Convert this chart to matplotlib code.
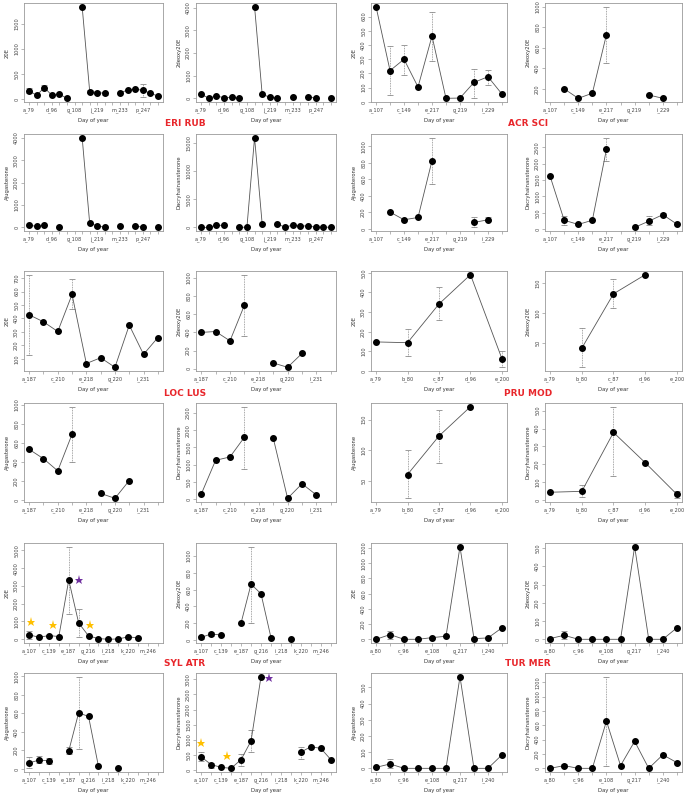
import numpy as np
import matplotlib
matplotlib.use("Agg")
import matplotlib.pyplot as plt

nan = np.nan
compounds = ["20E", "2deoxy20E", "Ajugasterone", "Dacryhainansterone"]

# ---- ERI RUB ----
eri_days = ["a_79", "", "", "d_96", "", "", "g_108", "", "", "j_219", "", "",
            "m_233", "", "", "p_247", "", ""]
eri_20e = [167, 80, 233, 80, 100, 20, nan, 1833, 153, 133, 120, nan, 133, 180, 200, 180, 120, 67]
eri_20e_err = {0: (120, 220), 2: (187, 280), 8: (120, 187), 9: (100, 160), 10: (95, 150), 15: (53, 300)}
eri_2deoxy = [175, 10, 100, 30, 45, 0, nan, 4040, 175, 50, 20, nan, 40, nan, 80, 0, nan, 30]
eri_2deoxy_err = {}
eri_ajug = [100, 45, 90, nan, 30, nan, nan, 4015, 175, 75, 0, nan, 45, nan, 75, 0, nan, 30]
eri_ajug_err = {}
eri_dacry = [0, 0, 400, 350, nan, 0, 50, 15900, 580, nan, 580, 50, 400, 230, 290, 20, 80, 0]
eri_dacry_err = {}
eri_yticks = [[0, 500, 1000, 1500], [0, 1000, 2000, 3000, 4000],
              [0, 1000, 2000, 3000, 4000], [0, 5000, 10000, 15000]]

# ---- ACR SCI ----
acr_days = ["a_107", "", "c_149", "", "e_217", "", "g_219", "", "i_229", ""]
acr_20e = [670, 220, 300, 105, 463, 25, 27, 137, 177, 55]
acr_20e_err = {1: (47, 393), 2: (190, 400), 4: (290, 635), 7: (28, 228), 8: (122, 224)}
acr_2deoxy = [nan, 200, 107, 157, 730, nan, nan, 140, 107, nan]
acr_2deoxy_err = {4: (457, 1003)}
acr_ajug = [nan, 205, 112, 140, 825, nan, nan, 80, 112, nan]
acr_ajug_err = {4: (540, 1104), 7: (20, 140), 8: (92, 140)}
acr_dacry = [1620, 270, 140, 270, 2440, nan, 50, 240, 440, 150]
acr_dacry_err = {1: (120, 400), 4: (2090, 2800), 7: (120, 400), 8: (400, 480)}
acr_yticks = [list(range(0, 700, 100)), list(range(200, 1200, 200)),
              list(range(0, 1200, 200)), list(range(0, 3000, 500))]

# ---- LOC LUS ----
loc_days = ["a_187", "", "c_210", "", "e_218", "", "g_220", "", "i_231", ""]
loc_20e = [427, 375, 303, 578, 65, 108, 37, 350, 133, 258]
loc_20e_err = {0: (130, 725), 3: (470, 695)}
loc_2deoxy = [400, 410, 307, 700, nan, 63, 15, 168, nan, nan]
loc_2deoxy_err = {3: (363, 1037)}
loc_ajug = [533, 435, 307, 692, nan, 70, 18, 205, nan, nan]
loc_ajug_err = {3: (400, 982)}
loc_dacry = [147, 1127, 1225, 1794, nan, 1775, 30, 450, 127, nan]
loc_dacry_err = {3: (880, 2676)}
loc_yticks = [list(range(100, 800, 100)), list(range(0, 1200, 200)),
              list(range(0, 1200, 200)), list(range(0, 3000, 500))]

# ---- PRU MOD ----
pru_days = ["a_79", "b_80", "c_87", "d_96", "e_200"]
pru_20e = [148, 144, 341, 490, 62]
pru_20e_err = {1: (74, 214), 2: (257, 425), 4: (19, 103)}
pru_2deoxy = [nan, 41, 132, 164, nan]
pru_2deoxy_err = {1: (9, 74), 2: (108, 157)}
pru_ajug = [nan, 60, 123, 171, nan]
pru_ajug_err = {1: (21, 100), 2: (79, 165)}
pru_dacry = [44, 49, 378, 209, 32]
pru_dacry_err = {1: (19, 82), 2: (133, 522), 4: (10, 50)}
pru_yticks = [list(range(0, 600, 100)), [50, 100, 150], [50, 100, 150], list(range(0, 600, 100))]

# ---- SYL ATR ----
syl_days = ["a_107", "", "c_139", "", "e_187", "", "g_216", "", "i_218", "",
            "k_220", "", "m_246", ""]
syl_20e = [250, 115, 210, 155, 3330, 920, 190, 40, 0, 20, 135, 80, nan, nan]
syl_20e_err = {0: (0, 440), 4: (1400, 5200), 5: (150, 1700)}
syl_2deoxy = [33, 73, 61, nan, 204, 665, 551, 29, nan, 12, nan, nan, nan, nan]
syl_2deoxy_err = {0: (10, 55), 1: (50, 100), 5: (205, 1110)}
syl_ajug = [65, 97, 87, nan, 195, 607, 567, 29, nan, 7, nan, nan, nan, nan]
syl_ajug_err = {0: (10, 125), 1: (60, 140), 2: (55, 115), 4: (160, 240), 5: (218, 997)}
syl_dacry = [444, 190, 100, 67, 355, 965, 3080, nan, nan, nan, 600, 778, 722, 355]
syl_dacry_err = {0: (320, 590), 1: (90, 250), 4: (160, 530), 5: (590, 1320), 10: (380, 780)}
syl_yticks = [list(range(0, 6000, 1000)), list(range(0, 1200, 200)),
              list(range(0, 1200, 200)), list(range(0, 3500, 500))]
# stars (x position in category units, y value)
syl_20e_yellow = ([0.2, 2.4, 6.1], [980, 830, 830])
syl_20e_purple = ([5.0], [3330])
syl_dacry_yellow = ([0.0, 2.6], [910, 467])
syl_dacry_purple = ([6.85], [3020])

# ---- TUR MER ----
tur_days = ["a_80", "", "c_96", "", "e_108", "", "g_217", "", "i_240", ""]
tur_20e = [0, 62, 0, 0, 22, 40, 1218, 9, 18, 151]
tur_20e_err = {1: (0, 110)}
tur_2deoxy = [4, 22, 0, 0, 0, 0, 507, 0, 0, 63]
tur_2deoxy_err = {1: (0, 44)}
tur_ajug = [6, 27, 0, 0, 0, 0, 566, 0, 0, 83]
tur_ajug_err = {1: (0, 56)}
tur_dacry = [0, 38, 0, 0, 660, 38, 377, 0, 189, 80]
tur_dacry_err = {1: (20, 55), 4: (30, 1280)}
tur_yticks = [list(range(0, 1400, 200)), list(range(0, 600, 100)),
              list(range(0, 600, 100)), list(range(0, 1400, 200))]

species = [
    ("ERI RUB", eri_days, [eri_20e, eri_2deoxy, eri_ajug, eri_dacry],
     [eri_20e_err, eri_2deoxy_err, eri_ajug_err, eri_dacry_err], eri_yticks),
    ("ACR SCI", acr_days, [acr_20e, acr_2deoxy, acr_ajug, acr_dacry],
     [acr_20e_err, acr_2deoxy_err, acr_ajug_err, acr_dacry_err], acr_yticks),
    ("LOC LUS", loc_days, [loc_20e, loc_2deoxy, loc_ajug, loc_dacry],
     [loc_20e_err, loc_2deoxy_err, loc_ajug_err, loc_dacry_err], loc_yticks),
    ("PRU MOD", pru_days, [pru_20e, pru_2deoxy, pru_ajug, pru_dacry],
     [pru_20e_err, pru_2deoxy_err, pru_ajug_err, pru_dacry_err], pru_yticks),
    ("SYL ATR", syl_days, [syl_20e, syl_2deoxy, syl_ajug, syl_dacry],
     [syl_20e_err, syl_2deoxy_err, syl_ajug_err, syl_dacry_err], syl_yticks),
    ("TUR MER", tur_days, [tur_20e, tur_2deoxy, tur_ajug, tur_dacry],
     [tur_20e_err, tur_2deoxy_err, tur_ajug_err, tur_dacry_err], tur_yticks),
]

W, H = 685, 795
# panel frames in pixels
col_left = [24, 196, 371, 545]
col_right = [163, 336, 507, 682]
row_top = [3, 134, 271, 403, 543, 673]
row_bottom = [102, 231, 371, 502, 643, 772]
label_pos = [(185, 123), (528, 123), (185, 393), (528, 393), (185, 663), (528, 663)]

fig = plt.figure(figsize=(W / 100, H / 100), dpi=100)
fig.patch.set_facecolor("white")

frame_col = "#9a9a9a"


def draw_panel(ax, days, vals, errs, yticks, ylabel):
    n = len(days)
    x = np.arange(n)
    y = np.array(vals, dtype=float)
    ax.plot(x, y, "-", color="#555555", lw=0.6, zorder=2)
    for i, (lo, hi) in errs.items():
        eb = ax.errorbar([i], [y[i]], yerr=[[y[i] - lo], [hi - y[i]]], fmt="none",
                         ecolor="#8a8a8a", elinewidth=0.6, capsize=2.3, capthick=0.6, zorder=1)
        eb[2][0].set_linestyle((0, (1, 1)))
    ax.plot(x, y, "o", ms=4, color="black", zorder=3)
    # R-like 4% padding, including error bars
    lows = [np.nanmin(y)] + [lo for lo, hi in errs.values()]
    highs = [np.nanmax(y)] + [hi for lo, hi in errs.values()]
    ymin, ymax = min(lows), max(highs)
    pad = 0.04 * (ymax - ymin)
    ax.set_ylim(ymin - pad, ymax + pad)
    ax.set_xlim(-0.04 * (n - 1), (n - 1) * 1.04)
    ax.set_xticks(x)
    ax.set_xticklabels(days)
    ax.set_yticks(yticks)
    ax.set_yticklabels([str(t) for t in yticks], rotation=90, va="center")
    for s in ax.spines.values():
        s.set_color(frame_col)
        s.set_linewidth(0.6)
    ax.tick_params(direction="out", length=2, width=0.5, color=frame_col,
                   labelsize=3.6, labelcolor="#444444", pad=1.5)
    ax.set_xlabel("Day of year", fontsize=3.8, color="#333333", labelpad=4)
    ax.set_ylabel(ylabel, fontsize=3.8, color="#333333", labelpad=3)


for k, (name, days, series, errors, yticks) in enumerate(species):
    r0 = (k // 2) * 2
    c0 = (k % 2) * 2
    for j in range(4):
        r = r0 + j // 2
        c = c0 + j % 2
        left = col_left[c] / W
        bottom = 1 - row_bottom[r] / H
        width = (col_right[c] - col_left[c]) / W
        height = (row_bottom[r] - row_top[r]) / H
        ax = fig.add_axes([left, bottom, width, height])
        draw_panel(ax, days, series[j], errors[j], yticks[j], compounds[j])
        if name == "SYL ATR" and j == 0:
            ax.plot(*syl_20e_yellow, "*", ms=6.5, color="#FFC000", mew=0, zorder=4)
            ax.plot(*syl_20e_purple, "*", ms=6.5, color="#7030A0", mew=0, zorder=4)
        if name == "SYL ATR" and j == 3:
            ax.plot(*syl_dacry_yellow, "*", ms=6.5, color="#FFC000", mew=0, zorder=4)
            ax.plot(*syl_dacry_purple, "*", ms=6.5, color="#7030A0", mew=0, zorder=4)
    lx, ly = label_pos[k]
    fig.text(lx / W, 1 - ly / H, name, color="#E8262B", fontsize=6.5,
             fontweight="bold", ha="center", va="center")

fig.savefig("out.png", dpi=100)
